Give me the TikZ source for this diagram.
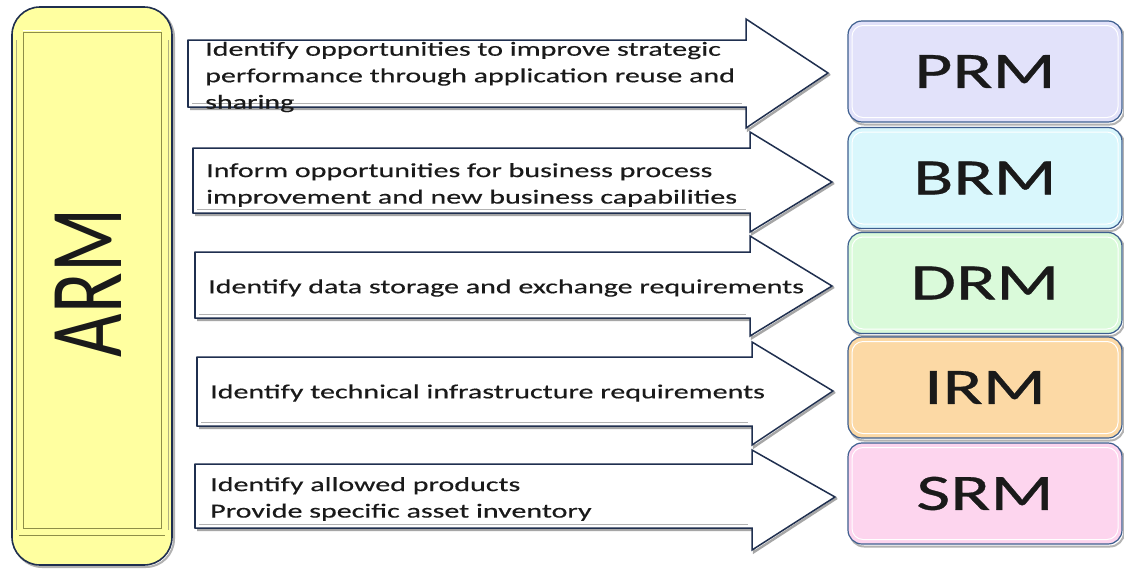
\documentclass[tikz,border=0pt]{standalone}
\usepackage{fontspec}
\setmainfont{Carlito}
\newfontfamily\wfont[FakeStretch=1.5,FakeBold=0.4]{Carlito}
\newfontfamily\bfont[FakeStretch=1.45,FakeBold=0.6]{Carlito}
\definecolor{navy}{HTML}{1F2F4F}
\definecolor{bbord}{HTML}{3E5F8F}
\definecolor{armfill}{HTML}{FFFFA0}
\definecolor{armline}{HTML}{8E8E48}
\definecolor{cprm}{HTML}{E2E2FA}
\definecolor{cbrm}{HTML}{D9F7FC}
\definecolor{cdrm}{HTML}{DAFADA}
\definecolor{cirm}{HTML}{FCD9A5}
\definecolor{csrm}{HTML}{FDD5EE}
\definecolor{txt}{HTML}{1A1A1A}
\tikzset{
  arrowbody/.style={fill=white, draw=navy, line width=1.5pt, line join=miter},
  arrowshadow/.style={draw=black!35, line width=2.4pt, line join=miter},
  atext/.style={anchor=west, align=left, text=txt, inner sep=0pt,
    font=\wfont\fontsize{20}{26.5}\selectfont},
  rbox/.style={draw=bbord, line width=1.2pt, rounded corners=14pt,
    minimum width=274pt, minimum height=101pt, inner sep=0pt, text=txt,
    font=\bfont\fontsize{51}{51}\selectfont},
  armbox/.style={draw=navy, line width=1.6pt, fill=armfill, rounded corners=28pt,
    minimum width=160pt, minimum height=558pt, inner sep=0pt},
}
\begin{document}
\begin{tikzpicture}[x=1pt,y=-1pt]
\useasboundingbox (0,0) rectangle (1124,568);
\fill[white] (0,0) rectangle (1124,568);
% ARM box
\draw[black!30, line width=2pt, rounded corners=28pt] (14,9) rectangle (174,567);
\node[armbox] (arm) at (92,286) {};
\draw[armline, line width=1pt] (23,32) -- (161,32);
\draw[white, line width=0.8pt] (23,30) -- (161,30);
\draw[armline, line width=1pt] (23,32) -- (23,528) -- (161,528) -- (161,32);
\draw[armline, line width=1pt] (19,535) -- (165,535);
\draw[armline!70, line width=1pt] (16,40) -- (16,530);
\draw[armline!70, line width=1pt] (168,40) -- (168,530);
\node[rotate=90, text=txt] (armlabel) at (88,283)
  {\scalebox{1}[1.38]{\fontsize{75}{75}\selectfont ARM}};
% block arrows
\foreach \L/\T/\B/\H/\HT/\X/\Y/\HB in {
  188/40/107/746/19/828/73/128,
  193/148/213/750/132/832/182/232,
  195/252/318/750/236/832/286/336,
  197/357/426/752/342/833/391/445,
  195/464/528/752/450/835/497/550}{
  \draw[arrowshadow] (\L+2,\B+2) -- (\H+2,\B+2) -- (\H+2,\HB+2) -- (\X+2,\Y+1);
  \draw[arrowbody] (\L,\T) -- (\H,\T) -- (\H,\HT) -- (\X,\Y) -- (\H,\HB) -- (\H,\B) -- (\L,\B) -- cycle;
  \draw[navy, line width=2.6pt] (\L,\T) -- (\L,\B);
  \draw[black!30, line width=0.8pt] (\L+4,\B-4) -- (\H-4,\B-4);
}
\node[atext] (t1) at (205,77) {Identify opportunities to improve strategic\\performance through application reuse and\\sharing};
\node[atext] (t2) at (206,185) {Inform opportunities for business process\\improvement and new business capabilities};
\node[atext] (t3) at (208,288) {Identify data storage and exchange requirements};
\node[atext] (t4) at (210,393) {Identify technical infrastructure requirements};
\node[atext] (t5) at (210,499) {Identify allowed products\\Provide specific asset inventory};
% right boxes
\foreach \n/\c/\y/\lab in {prm/cprm/71.5/PRM, brm/cbrm/178/BRM, drm/cdrm/283/DRM, irm/cirm/387.5/IRM, srm/csrm/493.5/SRM}{
  \draw[black!30, line width=2pt, rounded corners=14pt] (850,\y-48) rectangle (1124,\y+53);
  \node[rbox, fill=\c] (\n) at (985,\y) {\lab};
  \draw[white, line width=1pt, rounded corners=11pt] (852,\y-46) rectangle (1118,\y+46);
}
\end{tikzpicture}
\end{document}
